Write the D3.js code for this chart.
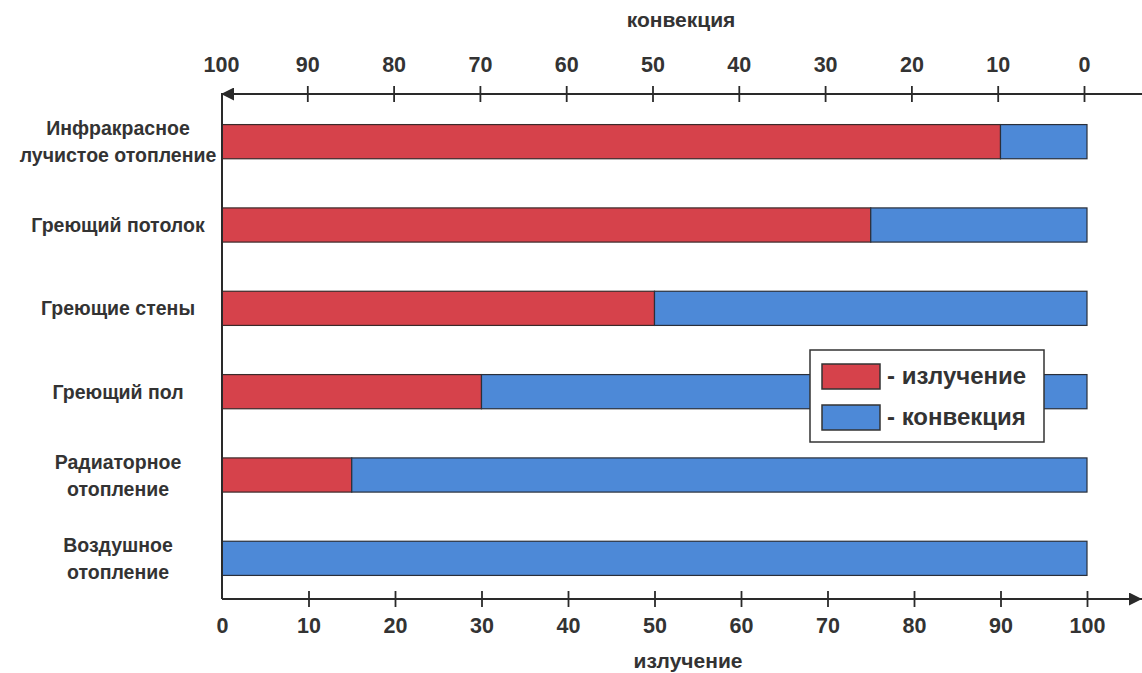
<!DOCTYPE html>
<html><head><meta charset="utf-8">
<script src="https://cdn.jsdelivr.net/npm/d3@7"></script>
<style>
html,body{margin:0;padding:0;background:#fff;}
svg{display:block;font-family:"Liberation Sans",Arial,sans-serif;}
</style></head>
<body><svg id="chart" width="1142" height="673"></svg>
<script>
const categories = ["Инфракрасное лучистое отопление","Греющий потолок","Греющие стены","Греющий пол","Радиаторное отопление","Воздушное отопление"];
const categoryLines = [["Инфракрасное","лучистое отопление"],["Греющий потолок"],["Греющие стены"],["Греющий пол"],["Радиаторное","отопление"],["Воздушное","отопление"]];
const radiation = [90,75,50,30,15,0];
const convection = [10,25,50,70,85,100];
const bottomTicks = [0,10,20,30,40,50,60,70,80,90,100];
const topTicks = [100,90,80,70,60,50,40,30,20,10,0];
const seriesNames = ["- излучение","- конвекция"];
const colors = ["#d6424b","#4d89d7"];
const topTitle = "конвекция", bottomTitle = "излучение";

const svg = d3.select("#chart");
const xB = d3.scaleLinear().domain([0,100]).range([222,1087]);
const xT = d3.scaleLinear().domain([0,100]).range([1084,221]);
const y = d3.scaleBand().domain(categories).range([100,600]).paddingInner(0.59).paddingOuter(0.295);
const axisTopY = 94, axisBotY = 599;
const ink = "#2a2a2a";

svg.append("defs").append("marker").attr("id","arr").attr("viewBox","0 0 10 10")
  .attr("refX",10).attr("refY",5).attr("markerWidth",20).attr("markerHeight",13)
  .attr("markerUnits","userSpaceOnUse").attr("orient","auto")
  .append("path").attr("d","M0,0 L10,5 L0,10 Z").attr("fill",ink);

// bars
const rows = categories.map((c,i)=>({c, r:radiation[i], v:convection[i]}));
const g = svg.append("g");
g.selectAll("rect.red").data(rows.filter(d=>d.r>0)).join("rect").attr("class","red")
  .attr("x",xB(0)).attr("y",d=>y(d.c)).attr("width",d=>xB(d.r)-xB(0)).attr("height",y.bandwidth())
  .attr("fill",colors[0]).attr("stroke","#3a2a2a").attr("stroke-width",1.2);
g.selectAll("rect.blue").data(rows.filter(d=>d.v>0)).join("rect").attr("class","blue")
  .attr("x",d=>xB(d.r)).attr("y",d=>y(d.c)).attr("width",d=>xB(d.r+d.v)-xB(d.r)).attr("height",y.bandwidth())
  .attr("fill",colors[1]).attr("stroke","#2a2f3a").attr("stroke-width",1.2);

// left vertical axis
svg.append("line").attr("x1",222).attr("x2",222).attr("y1",axisTopY).attr("y2",axisBotY)
  .attr("stroke",ink).attr("stroke-width",2);

// top axis
const gt = svg.append("g").attr("transform",`translate(0,${axisTopY})`)
  .call(d3.axisTop(xT).tickValues(topTicks).tickFormat(d3.format("d")).tickSize(8));
gt.select(".domain").remove();
gt.selectAll(".tick line").attr("y1",-8).attr("y2",8).attr("stroke",ink).attr("stroke-width",1.8)
  .filter(d=>d===100).remove();
gt.selectAll(".tick text").attr("y",-22).attr("dy",0).attr("font-size",21.5).attr("font-weight","bold").attr("fill","#333");
svg.append("line").attr("x1",1142).attr("x2",221).attr("y1",axisTopY).attr("y2",axisTopY)
  .attr("stroke",ink).attr("stroke-width",2).attr("marker-end","url(#arr)");

// bottom axis
const gb = svg.append("g").attr("transform",`translate(0,${axisBotY})`)
  .call(d3.axisBottom(xB).tickValues(bottomTicks).tickFormat(d3.format("d")).tickSize(8));
gb.select(".domain").remove();
gb.selectAll(".tick line").attr("y1",-8).attr("y2",8).attr("stroke",ink).attr("stroke-width",1.8)
  .filter(d=>d===0).remove();
gb.selectAll(".tick text").attr("y",34).attr("dy",0).attr("font-size",21.5).attr("font-weight","bold").attr("fill","#333");
svg.append("line").attr("x1",222).attr("x2",1142).attr("y1",axisBotY).attr("y2",axisBotY)
  .attr("stroke",ink).attr("stroke-width",2).attr("marker-end","url(#arr)");

// axis titles
svg.append("text").attr("x",681).attr("y",27).attr("text-anchor","middle").attr("font-size",21)
  .attr("font-weight","bold").attr("fill","#333").text(topTitle);
svg.append("text").attr("x",688).attr("y",668).attr("text-anchor","middle").attr("font-size",21)
  .attr("font-weight","bold").attr("fill","#333").text(bottomTitle);

// category labels
const lh = 27;
categories.forEach((c,i)=>{
  const lines = categoryLines[i];
  const cy = y(c)+y.bandwidth()/2;
  const t = svg.append("text").attr("text-anchor","middle").attr("font-size",19.5)
    .attr("font-weight","bold").attr("fill","#333");
  lines.forEach((ln,j)=>{
    t.append("tspan").attr("x",118).attr("y",cy + (j-(lines.length-1)/2)*lh + 7).text(ln);
  });
});

// legend
const lg = svg.append("g");
lg.append("rect").attr("x",810).attr("y",350).attr("width",234).attr("height",92)
  .attr("fill","#fff").attr("stroke","#333").attr("stroke-width",1.5);
seriesNames.forEach((s,i)=>{
  const yy = 364 + i*41;
  lg.append("rect").attr("x",822).attr("y",yy).attr("width",58).attr("height",25)
    .attr("fill",colors[i]).attr("stroke","#333").attr("stroke-width",1.5);
  lg.append("text").attr("x",887).attr("y",yy+20).attr("font-size",24).attr("font-weight","bold")
    .attr("fill","#333").text(s);
});
</script></body></html>
